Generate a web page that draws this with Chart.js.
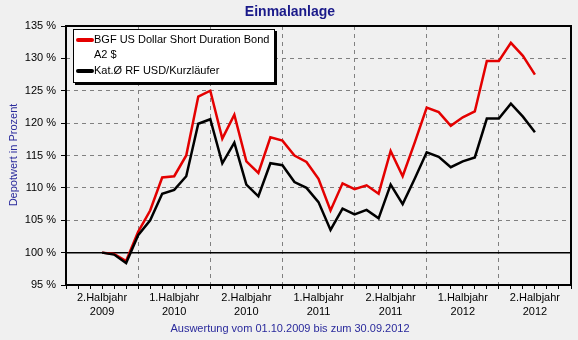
<!DOCTYPE html>
<html>
<head>
<meta charset="utf-8">
<script src="https://cdn.jsdelivr.net/npm/chart.js@4/dist/chart.umd.min.js"></script>
<style>
html, body { margin: 0; padding: 0; background: #f0f0f0; }
canvas { display: block; }
</style>
</head>
<body>
<canvas id="chart" width="578" height="340"></canvas>
<script>
// months counted from 01.07.2009 (0 = start of 2.Halbjahr 2009)
var months = [3, 4, 5, 6, 7, 8, 9, 10, 11, 12, 13, 14, 15, 16, 17, 18, 19, 20, 21,
    22, 23, 24, 25, 26, 27, 28, 29, 30, 31, 32, 33, 34, 35, 36, 37, 38, 39];

var fundName = 'BGF US Dollar Short Duration Bond A2 $';
var fundValues = [100, 99.8, 98.7, 103.2, 106.5, 111.6, 111.8, 115, 124.1, 125,
    117.6, 121.3, 114.1, 112.3, 117.8, 117.3, 115, 114, 111.4, 106.5,
    110.7, 109.8, 110.4, 109.1, 115.7, 111.8, 117.0, 122.4, 121.7, 119.6,
    120.9, 121.8, 129.6, 129.6, 132.4, 130.4, 127.5];

var categoryName = 'Kat.\u00d8 RF USD/Kurzl\u00e4ufer';
var categoryValues = [100, 99.7, 98.4, 102.7, 105, 109.1, 109.7, 111.8, 119.9, 120.6,
    113.8, 117.0, 110.5, 108.7, 113.8, 113.5, 110.9, 110.0, 107.8, 103.5,
    106.8, 105.9, 106.6, 105.3, 110.5, 107.5, 111.4, 115.5, 114.8, 113.2,
    114.1, 114.7, 120.7, 120.7, 123.0, 121.0, 118.6];

var halfYearPos = [3, 9, 15, 21, 27, 33, 39];
var halfYearLabels = [
    ['2.Halbjahr', '2009'], ['1.Halbjahr', '2010'], ['2.Halbjahr', '2010'],
    ['1.Halbjahr', '2011'], ['2.Halbjahr', '2011'], ['1.Halbjahr', '2012'],
    ['2.Halbjahr', '2012']
];
var yTicks = [95, 100, 105, 110, 115, 120, 125, 130, 135];
var baseLine = 100;

var FONT = '"Liberation Sans", Arial, sans-serif';
var NAVY = '#1a1a8a';

function toPoints(xs, ys) {
    return xs.map(function (x, i) { return { x: x, y: ys[i] }; });
}

var extras = {
    id: 'extras',
    beforeDatasetsDraw: function (chart) {
        var ctx = chart.ctx;
        var a = chart.chartArea;
        var y = chart.scales.y.getPixelForValue(baseLine);
        ctx.save();
        ctx.strokeStyle = '#000';
        ctx.lineWidth = 1.5;
        ctx.beginPath();
        ctx.moveTo(a.left, y);
        ctx.lineTo(a.right, y);
        ctx.stroke();
        ctx.restore();
    },
    afterDraw: function (chart) {
        var ctx = chart.ctx;
        var a = chart.chartArea;
        ctx.save();

        // frame
        ctx.strokeStyle = '#000';
        ctx.lineWidth = 2;
        ctx.strokeRect(a.left, a.top, a.right - a.left, a.bottom - a.top);

        // title
        ctx.fillStyle = NAVY;
        ctx.font = 'bold 14px ' + FONT;
        ctx.textAlign = 'center';
        ctx.textBaseline = 'middle';
        ctx.fillText('Einmalanlage', 290, 12);

        // caption
        ctx.font = '11px ' + FONT;
        ctx.fillStyle = '#2a2a9c';
        ctx.fillText('Auswertung vom 01.10.2009 bis zum 30.09.2012', 290, 329);

        // y title
        ctx.save();
        ctx.translate(14, 155);
        ctx.rotate(-Math.PI / 2);
        ctx.fillText('Depotwert in Prozent', 0, 0);
        ctx.restore();

        // legend
        var lx = 73, ly = 29, lw = 202, lh = 54;
        ctx.fillStyle = '#000';
        ctx.fillRect(lx + 2, ly + 2, lw, lh);
        ctx.fillStyle = '#fff';
        ctx.fillRect(lx, ly, lw, lh);
        ctx.lineWidth = 1;
        ctx.strokeStyle = '#000';
        ctx.strokeRect(lx + 0.5, ly + 0.5, lw - 1, lh - 1);

        ctx.lineCap = 'round';
        ctx.lineWidth = 4;
        ctx.strokeStyle = '#e40000';
        ctx.beginPath(); ctx.moveTo(78, 40); ctx.lineTo(92, 40); ctx.stroke();
        ctx.strokeStyle = '#000';
        ctx.beginPath(); ctx.moveTo(78, 71); ctx.lineTo(92, 71); ctx.stroke();

        ctx.fillStyle = '#000';
        ctx.font = '11px ' + FONT;
        ctx.textAlign = 'left';
        ctx.fillText('BGF US Dollar Short Duration Bond', 94, 40);
        ctx.fillText('A2 $', 94, 55);
        ctx.fillText(categoryName, 94, 71);
        ctx.restore();
    }
};

var ctx = document.getElementById('chart').getContext('2d');
var myChart = new Chart(ctx, {
    type: 'line',
    data: {
        datasets: [{
            label: categoryName,
            data: toPoints(months, categoryValues),
            borderColor: '#000',
            borderWidth: 2.5,
            pointRadius: 0,
            order: 0
        }, {
            label: fundName,
            data: toPoints(months, fundValues),
            borderColor: '#e40000',
            borderWidth: 2.5,
            pointRadius: 0,
            order: 1
        }]
    },
    options: {
        responsive: false,
        animation: false,
        layout: {
            padding: { left: 0, right: 7, top: 26, bottom: 0 }
        },
        plugins: {
            legend: { display: false },
            title: { display: false },
            tooltip: { enabled: false }
        },
        elements: {
            line: { tension: 0, borderJoinStyle: 'miter' }
        },
        scales: {
            x: {
                type: 'linear',
                min: 0,
                max: 42,
                afterFit: function (scale) { scale.height = 55; },
                ticks: {
                    stepSize: 1,
                    autoSkip: false,
                    maxRotation: 0,
                    padding: 2,
                    color: '#000',
                    font: { family: FONT, size: 11, lineHeight: 1.3 },
                    callback: function (v) {
                        var i = halfYearPos.indexOf(v);
                        return i >= 0 ? halfYearLabels[i] : '';
                    }
                },
                grid: {
                    color: function (c) {
                        return c.tick && c.tick.value % 6 === 0 ? '#808080' : 'rgba(0,0,0,0)';
                    },
                    tickColor: '#000',
                    tickLength: 4,
                    lineWidth: 1
                },
                border: { display: false, dash: [4, 4] }
            },
            y: {
                min: 95,
                max: 135,
                afterFit: function (scale) { scale.width = 66; },
                afterBuildTicks: function (scale) {
                    scale.ticks = yTicks.map(function (v) { return { value: v }; });
                },
                ticks: {
                    padding: 5,
                    color: '#000',
                    font: { family: FONT, size: 11 },
                    callback: function (v) { return v + ' %'; }
                },
                grid: {
                    color: '#808080',
                    tickColor: '#000',
                    tickLength: 5,
                    lineWidth: 1
                },
                border: { display: false, dash: [4, 4] }
            }
        }
    },
    plugins: [extras]
});
</script>
</body>
</html>
